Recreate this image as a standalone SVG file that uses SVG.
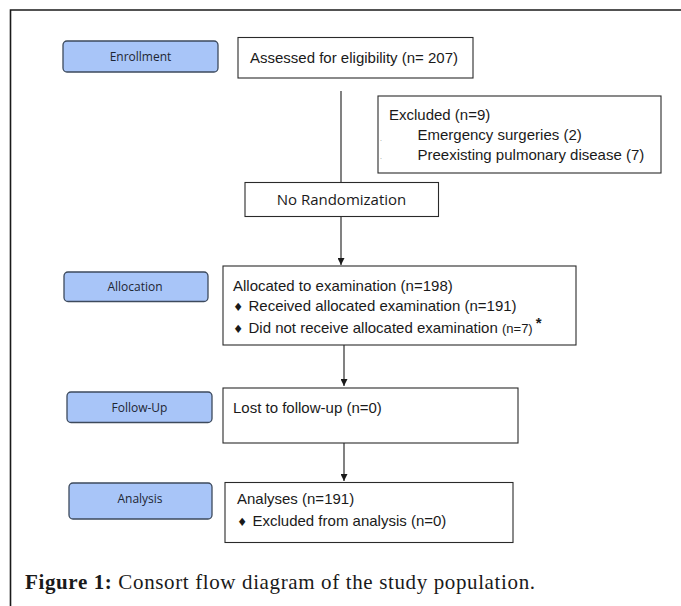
<svg xmlns="http://www.w3.org/2000/svg" width="681" height="606" viewBox="0 0 681 606">
<style>
.frame{fill:none;stroke:#1a1a1a;stroke-width:1.6}
.pill{fill:#a8c5f8;stroke:#3d4a5c;stroke-width:1.3}
.box{fill:#ffffff;stroke:#2a2a2a;stroke-width:1.1}
.lbl{font-family:"Open Sans","Noto Sans",sans-serif;font-size:12px;fill:#1e2633;text-anchor:middle}
.nr{font-family:"Open Sans","Noto Sans",sans-serif;font-size:15px;fill:#1a1a1a;text-anchor:middle}
.t{font-family:"Liberation Sans",Arial,sans-serif;font-size:15px;fill:#1a1a1a}
.b{font-family:"DejaVu Sans",sans-serif;font-size:11.5px;fill:#1a1a1a}
.sm{font-size:13px}
.dot{font-family:"Liberation Sans",Arial,sans-serif;font-size:7px;fill:#888}
.conn{stroke:#1a1a1a;stroke-width:1.1;fill:none}
.cap{font-family:"Liberation Serif","Times New Roman",serif;font-size:21px;fill:#1a1a1a}
</style>
<defs>
<marker id="arr" viewBox="0 0 10 10" refX="10" refY="5" markerWidth="7" markerHeight="7" markerUnits="userSpaceOnUse" orient="auto">
<path d="M0,0 L10,5 L0,10 Z" fill="#1a1a1a"/>
</marker>
</defs>
<rect width="681" height="606" fill="#ffffff"/>
<path class="frame" d="M10.5,606 L10.5,10 L681,10"/>

<g id="connectors">
<line class="conn" x1="341" y1="91" x2="341" y2="182"/>
<line class="conn" x1="341" y1="217" x2="341" y2="265" marker-end="url(#arr)"/>
<line class="conn" x1="344" y1="345" x2="344" y2="386" marker-end="url(#arr)"/>
<line class="conn" x1="344" y1="443" x2="344" y2="481" marker-end="url(#arr)"/>
</g>

<g id="enrollment">
<rect class="pill" x="63" y="41" width="155" height="31" rx="4"/>
<text class="lbl" x="140.5" y="61">Enrollment</text>
</g>
<g id="assessed">
<rect class="box" x="238" y="37.5" width="235" height="40.5"/>
<text class="t" x="250" y="63">Assessed for eligibility (n= 207)</text>
</g>
<g id="excluded">
<rect class="box" x="378" y="96" width="283" height="77"/>
<text class="t" x="389" y="120">Excluded (n=9)</text>
<text class="t" x="417.5" y="140">Emergency surgeries (2)</text>
<text class="t" x="417.5" y="160">Preexisting pulmonary disease (7)</text>
<text class="dot" x="380" y="141">.</text>
<text class="dot" x="380" y="159">.</text>
</g>
<g id="norandomization">
<rect class="box" x="245" y="182.5" width="193.5" height="34"/>
<text class="nr" x="341.5" y="205">No Randomization</text>
</g>
<g id="allocation">
<rect class="pill" x="64" y="272" width="144" height="29.5" rx="4"/>
<text class="lbl" x="135" y="291">Allocation</text>
</g>
<g id="allocated">
<rect class="box" x="223" y="266" width="353" height="79"/>
<text class="t" x="233" y="291">Allocated to examination (n=198)</text>
<text class="b" x="233" y="310.5">♦</text>
<text class="t" x="248.5" y="311">Received allocated examination (n=191)</text>
<text class="b" x="233" y="332.5">♦</text>
<text class="t" x="248.5" y="333">Did not receive allocated examination <tspan class="sm">(n=7)</tspan><tspan font-weight="bold" font-size="15" dx="3" dy="-5">*</tspan></text>
</g>
<g id="followup">
<rect class="pill" x="67" y="392" width="145" height="30.5" rx="4"/>
<text class="lbl" x="139.5" y="412">Follow-Up</text>
</g>
<g id="lost">
<rect class="box" x="223" y="388" width="295" height="55"/>
<text class="t" x="233" y="413">Lost to follow-up (n=0)</text>
</g>
<g id="analysis">
<rect class="pill" x="69" y="483" width="143" height="36" rx="4"/>
<text class="lbl" x="140" y="503">Analysis</text>
</g>
<g id="analyses">
<rect class="box" x="225" y="482.5" width="288" height="60"/>
<text class="t" x="237" y="504">Analyses (n=191)</text>
<text class="b" x="237" y="525.5">♦</text>
<text class="t" x="252.5" y="526">Excluded from analysis (n=0)</text>
</g>

<text class="cap" x="25" y="589" textLength="510" lengthAdjust="spacing"><tspan font-weight="bold">Figure 1:</tspan> Consort flow diagram of the study population.</text>
</svg>
